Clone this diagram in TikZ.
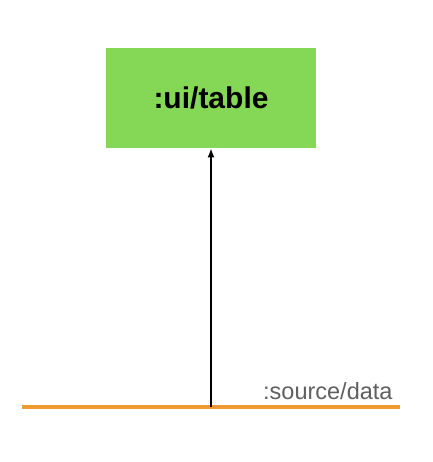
\documentclass[tikz,border=0pt]{standalone}
\usepackage{fontspec}
\setmainfont{Liberation Sans}
\usetikzlibrary{arrows.meta}
\definecolor{boxgreen}{RGB}{133,215,86}
\definecolor{lineorange}{RGB}{240,152,50}
\definecolor{labelgray}{RGB}{95,95,95}
\begin{document}
\begin{tikzpicture}[x=1pt, y=-1pt, line width=1pt]
	\useasboundingbox (0, 0) rectangle (432, 462);
	\draw[color=lineorange, line width=4pt] (22, 407) -- (400, 407); % source line
	\coordinate (src) at (211, 407);
	
	\node[fill=boxgreen, minimum width=210pt, minimum height=100pt, inner sep=0pt, text depth=0pt, text height=22pt] (table) at (211, 98) {\fontsize{30}{32}\selectfont\bfseries :ui/table};
	\draw[-{Latex[length=9pt, width=7pt]}, line width=1.3pt] (src) -- (table);
	
	\node[anchor=base east, color=labelgray, inner sep=0pt] (data) at (393, 399) {\fontsize{23.5}{26}\selectfont :source/data};
\end{tikzpicture}
\end{document}
